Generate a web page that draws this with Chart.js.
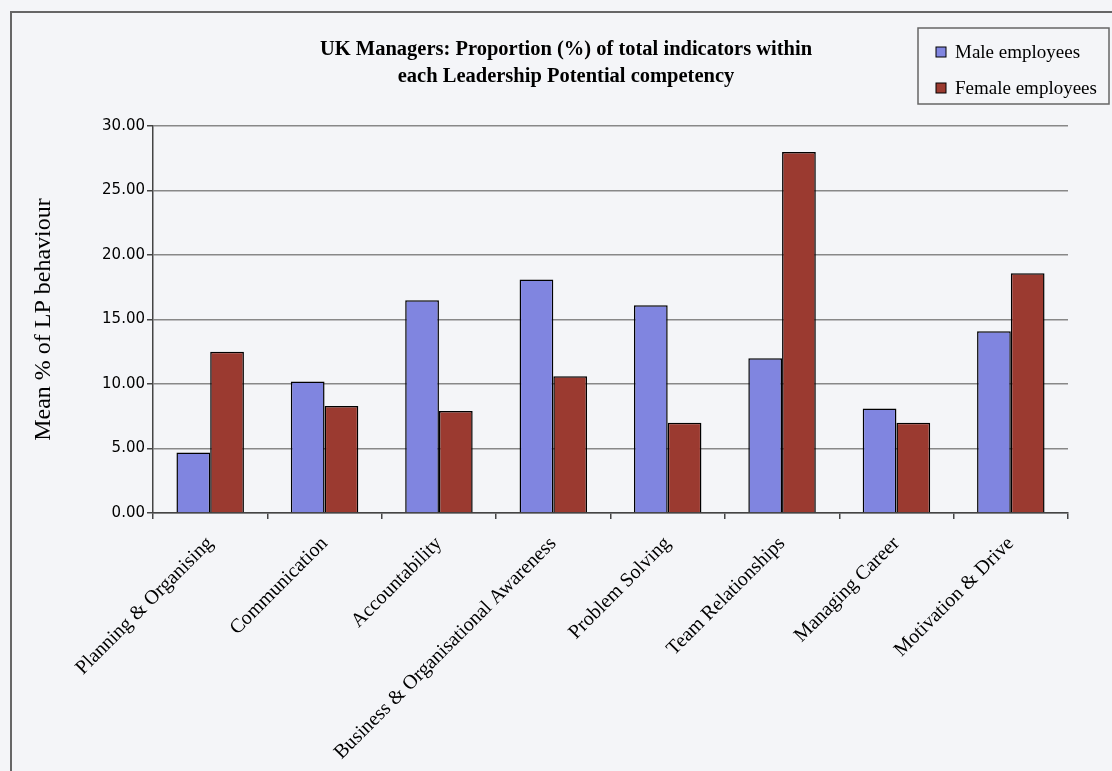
<!DOCTYPE html>
<html>
<head>
<meta charset="utf-8">
<script src="https://cdn.jsdelivr.net/npm/chart.js@4.4.1/dist/chart.umd.min.js"></script>
<style>
  html, body { margin: 0; padding: 0; background: #f4f5f8; width: 1112px; height: 771px; overflow: hidden; }
  #frame { position: absolute; left: 10px; top: 11px; width: 1200px; height: 900px; border-left: 2px solid #666; border-top: 2px solid #666; box-sizing: border-box; }
  #wrap { position: absolute; left: 20px; top: 0; width: 1092px; height: 771px; }
</style>
</head>
<body>
<div id="frame"></div>
<div id="wrap"><canvas id="c" width="1092" height="771"></canvas></div>
<script>
const categories = [
  "Planning & Organising",
  "Communication",
  "Accountability",
  "Business & Organisational Awareness",
  "Problem Solving",
  "Team Relationships",
  "Managing Career",
  "Motivation & Drive"
];
const maleValues = [4.7, 10.2, 16.5, 18.1, 16.1, 12.0, 8.1, 14.1];
const femaleValues = [12.5, 8.3, 7.9, 10.6, 7.0, 28.0, 7.0, 18.6];
const seriesLabels = ["Male employees", "Female employees"];
const yTicks = [0, 5, 10, 15, 20, 25, 30];
const titleLines = ["UK Managers: Proportion (%) of total indicators within", "each Leadership Potential competency"];
const yAxisTitle = "Mean % of LP behaviour";

const maleColor = "#8085e0";
const femaleColor = "#9b3a30";

const boxLegend = {
  id: 'boxLegend',
  afterDraw(chart) {
    const ctx = chart.ctx;
    const x0 = 898, y0 = 28, w = 191, h = 76;
    ctx.save();
    ctx.fillStyle = "#f4f5f8";
    ctx.fillRect(x0, y0, w, h);
    ctx.strokeStyle = "#666";
    ctx.lineWidth = 1.5;
    ctx.strokeRect(x0, y0, w, h);
    const rows = [52, 88];
    chart.data.datasets.forEach((ds, i) => {
      const cy = rows[i];
      ctx.fillStyle = ds.backgroundColor;
      ctx.fillRect(916, cy - 5, 10, 10);
      ctx.strokeStyle = "#000";
      ctx.lineWidth = 1;
      ctx.strokeRect(916, cy - 5, 10, 10);
      ctx.fillStyle = "#000";
      ctx.font = "19px 'Liberation Serif'";
      ctx.textBaseline = "middle";
      ctx.textAlign = "left";
      ctx.fillText(ds.label, 935, cy + 1);
    });
    ctx.restore();
  }
};

new Chart(document.getElementById('c'), {
  type: 'bar',
  data: {
    labels: categories,
    datasets: [
      { label: seriesLabels[0], data: maleValues, backgroundColor: maleColor, borderColor: "#000", borderWidth: 1.5 },
      { label: seriesLabels[1], data: femaleValues, backgroundColor: femaleColor, borderColor: "#000", borderWidth: 1.5 }
    ]
  },
  options: {
    responsive: false,
    animation: false,
    devicePixelRatio: 1,
    categoryPercentage: 0.59,
    barPercentage: 1.0,
    layout: { padding: { left: 44, right: 44, top: 0, bottom: 0 } },
    plugins: {
      legend: { display: false },
      tooltip: { enabled: false },
      title: {
        display: true,
        text: titleLines,
        color: "#000",
        font: { family: "'Liberation Serif'", size: 20.5, weight: 'bold', lineHeight: 1.32 },
        padding: { top: 36, bottom: 36 }
      }
    },
    scales: {
      x: {
        offset: true,
        grid: {
          offset: true,
          drawOnChartArea: true,
          color: (c) => (c.index === categories.length ? "#888" : "rgba(0,0,0,0)"),
          tickColor: "#444",
          tickLength: 6,
          lineWidth: 1.5
        },
        border: { color: "#444", width: 1.5 },
        ticks: {
          minRotation: 45, maxRotation: 45,
          color: "#000",
          padding: 13,
          font: { family: "'Liberation Serif'", size: 20 }
        },
        afterFit: (s) => { s.height = 258; }
      },
      y: {
        min: 0, max: 30,
        afterBuildTicks: (s) => { s.ticks = yTicks.map(v => ({ value: v })); },
        grid: { color: "#888", tickColor: "#444", tickLength: 6, lineWidth: 1.5 },
        border: { color: "#444", width: 1.5 },
        ticks: {
          color: "#000",
          padding: 2,
          font: { family: "'DejaVu Sans'", size: 15 },
          callback: (v) => Number(v).toFixed(2)
        },
        title: {
          display: true,
          text: yAxisTitle,
          color: "#000",
          font: { family: "'Liberation Serif'", size: 24, lineHeight: 1.2 },
          padding: { top: -34.4, bottom: 0 }
        },
        afterFit: (s) => { s.width = 89; }
      }
    }
  },
  plugins: [boxLegend]
});
</script>
</body>
</html>
